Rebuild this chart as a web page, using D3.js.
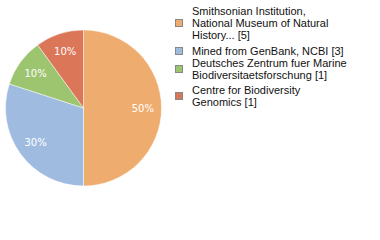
<!DOCTYPE html>
<html>
<head>
<meta charset="utf-8">
<script src="https://cdn.jsdelivr.net/npm/d3@7"></script>
<style>
  body { margin: 0; background: #fff; }
  svg { display: block; }
</style>
</head>
<body>
<div id="chart"></div>
<script>
var width = 380
var height = 240

// data
var names = [
  ['Smithsonian Institution,', 'National Museum of Natural', 'History... [5]'],
  ['Mined from GenBank, NCBI [3]'],
  ['Deutsches Zentrum fuer Marine', 'Biodiversitaetsforschung [1]'],
  ['Centre for Biodiversity', 'Genomics [1]']
]
var counts = [5, 3, 1, 1]
var colors = ['#efac6f', '#9fbbe0', '#9dc46f', '#dc7658']

var cx = 83.5
var cy = 108
var radius = 78

var svg = d3.select('#chart')
  .append('svg')
  .attr('width', width)
  .attr('height', height)

var pie = d3.pie().sort(null).value((d) => d)
var arcs = pie(counts)
var total = d3.sum(counts)

var arc = d3.arc().innerRadius(0).outerRadius(radius)
var labelArc = d3.arc().innerRadius(radius * 0.76).outerRadius(radius * 0.76)

var g = svg.append('g')
  .attr('transform', 'translate(' + cx + ',' + cy + ')')

g.selectAll('path')
  .data(arcs)
  .enter()
  .append('path')
  .attr('d', arc)
  .attr('fill', (d, i) => colors[i])
  .attr('stroke', '#fff')
  .attr('stroke-width', 0.5)

g.selectAll('text')
  .data(arcs)
  .enter()
  .append('text')
  .attr('transform', (d) => 'translate(' + labelArc.centroid(d) + ')')
  .attr('text-anchor', 'middle')
  .attr('dy', '0.35em')
  .attr('fill', '#fff')
  .attr('font-family', 'DejaVu Sans')
  .attr('font-size', 10)
  .text((d) => Math.round(d.value / total * 100) + '%')

// legend
var itemTop = [11, 51, 63, 90]
var lineH = 12

var legend = svg.append('g')
  .attr('font-family', 'Liberation Sans')
  .attr('font-size', 11)
  .attr('fill', '#111')

names.forEach(function (lines, i) {
  var item = legend.append('g')
  var mid = itemTop[i] + (lines.length - 1) * lineH / 2
  item.append('rect')
    .attr('x', 175.5)
    .attr('y', mid - 3.5)
    .attr('width', 7)
    .attr('height', 7)
    .attr('fill', colors[i])
    .attr('stroke', '#888')
    .attr('stroke-width', 1)
  lines.forEach(function (t, j) {
    item.append('text')
      .attr('x', 192)
      .attr('y', itemTop[i] + j * lineH)
      .attr('dy', '0.35em')
      .text(t)
  })
})
</script>
</body>
</html>
